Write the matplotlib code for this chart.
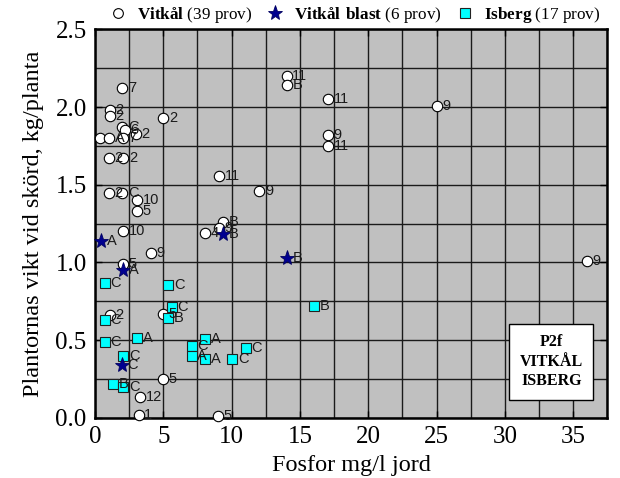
import matplotlib
matplotlib.use("Agg")
import matplotlib.pyplot as plt
from matplotlib.lines import Line2D

plt.rcParams['font.family'] = ['Liberation Serif', 'DejaVu Serif']
plt.rcParams['mathtext.fontset'] = 'custom'
plt.rcParams['mathtext.rm'] = 'Liberation Serif'
plt.rcParams['mathtext.bf'] = 'Liberation Serif:bold'

# Vitkål (white circles)
vit_x = [2.0, 1.1, 1.1, 5.0, 2.0, 2.2, 3.0, 0.37, 1.03, 2.05, 1.03, 2.07, 1.0, 2.0,
         3.1, 3.1, 2.07, 4.08, 2.07, 8.06, 9.35, 9.1, 12.04, 14.04, 14.04, 17.05,
         25.03, 17.05, 17.05, 36.0, 9.08, 1.1, 4.96, 5.0, 3.3, 3.2, 9.03]
vit_y = [2.12, 1.98, 1.94, 1.93, 1.87, 1.85, 1.83, 1.80, 1.80, 1.80, 1.67, 1.67, 1.45, 1.45,
         1.40, 1.33, 1.20, 1.06, 0.99, 1.19, 1.26, 1.22, 1.46, 2.20, 2.14, 2.05,
         2.01, 1.82, 1.75, 1.01, 1.555, 0.66, 0.67, 0.25, 0.13, 0.02, 0.01]
vit_lab = ['7', '2', '2', '2', 'C', '6', '2', '', 'A', '7', '2', '2', '2', 'C',
           '10', '5', '10', '9', '5', '4', 'B', '9', '9', '11', 'B', '11',
           '9', '9', '11', '9', '11', '2', '5', '5', '12', '1', '5']

# Vitkål blast (stars)
blast_x = [0.44, 2.07, 9.36, 14.04, 1.95]
blast_y = [1.14, 0.95, 1.18, 1.03, 0.34]
blast_lab = ['A', 'A', 'B', 'B', 'C']

# Isberg (cyan squares)
isb_x = [0.73, 5.62, 5.37, 0.73, 3.1, 2.07, 1.34, 2.07, 8.06, 8.06, 10.06, 11.06,
         7.08, 7.08, 0.73, 5.37, 16.04]
isb_y = [0.63, 0.71, 0.64, 0.485, 0.51, 0.40, 0.215, 0.20, 0.505, 0.376, 0.376, 0.447,
         0.46, 0.40, 0.87, 0.855, 0.72]
isb_lab = ['C', 'C', 'B', 'C', 'A', 'C', 'B', 'C', 'A', 'A', 'C', 'C',
           'C', 'A', 'C', 'C', 'B']

fig = plt.figure(figsize=(6.2, 4.78), dpi=100)
ax = fig.add_axes([0.1532, 0.1262, 0.8263, 0.8121])
ax.set_facecolor('#c0c0c0')

ax.set_xlim(0, 37.5)
ax.set_ylim(0, 2.5)
ax.set_xticks([0, 5, 10, 15, 20, 25, 30, 35])
ax.set_xticks([2.5 * i for i in range(16)], minor=True)
ax.set_yticks([0.0, 0.5, 1.0, 1.5, 2.0, 2.5])
ax.set_yticklabels(['0.0', '0.5', '1.0', '1.5', '2.0', '2.5'])
ax.set_yticks([0.25 * i for i in range(11)], minor=True)
ax.grid(True, which='both', color='#1a1a1a', linewidth=1.0)
ax.set_axisbelow(True)
ax.tick_params(which='both', direction='in', top=True, right=True, length=5,
               width=1, labelsize=18, pad=6)
ax.tick_params(which='minor', length=0)
for s in ax.spines.values():
    s.set_linewidth(1.8)

def plot_group(xs, ys, labels, **kw):
    ax.plot(xs, ys, linestyle='none', zorder=3, clip_on=False, **kw)
    for x, y, t in zip(xs, ys, labels):
        ax.annotate(t, (x, y), xytext=(4, 0), textcoords='offset points',
                    ha='left', va='center', fontsize=10.5, family='Liberation Sans',
                    color='#1a1a1a', zorder=4)

plot_group(vit_x, vit_y, vit_lab, marker='o', markersize=7.5,
           markerfacecolor='white', markeredgecolor='black', markeredgewidth=0.8)
plot_group(isb_x, isb_y, isb_lab, marker='s', markersize=6.5,
           markerfacecolor='#00ffff', markeredgecolor='#222222', markeredgewidth=0.8)
plot_group(blast_x, blast_y, blast_lab, marker='*', markersize=11,
           markerfacecolor='#000090', markeredgecolor='#000060', markeredgewidth=0.6)

ax.set_xlabel('Fosfor mg/l jord', fontsize=17.5, labelpad=5)
ax.set_ylabel('Plantornas vikt vid skörd, kg/planta', fontsize=17.5, labelpad=8)

handles = [
    Line2D([], [], linestyle='none', marker='o', markersize=7, markerfacecolor='white',
           markeredgecolor='black', markeredgewidth=0.8),
    Line2D([], [], linestyle='none', marker='*', markersize=11, markerfacecolor='#000090',
           markeredgecolor='#000060', markeredgewidth=0.6),
    Line2D([], [], linestyle='none', marker='s', markersize=7, markerfacecolor='#00ffff',
           markeredgecolor='#222222', markeredgewidth=0.8),
]
labels = [r'$\mathbf{Vitkål}$ (39 prov)',
          r'$\mathbf{Vitkål\ blast}$ (6 prov)',
          r'$\mathbf{Isberg}$ (17 prov)']
ax.legend(handles, labels, loc='center', bbox_to_anchor=(0.507, 1.038), ncol=3,
          frameon=False, fontsize=12.3, handlelength=1.0, handletextpad=0.6,
          columnspacing=0.85, borderaxespad=0, borderpad=0)

ax.text(0.891, 0.144, 'P2f\nVITKÅL\nISBERG', transform=ax.transAxes,
        ha='center', va='center', fontsize=11.5, fontweight='bold', linespacing=1.3,
        zorder=5, bbox=dict(boxstyle='square,pad=0.65', facecolor='white',
                            edgecolor='black', linewidth=1.0))

fig.savefig('out.png', dpi=100)
